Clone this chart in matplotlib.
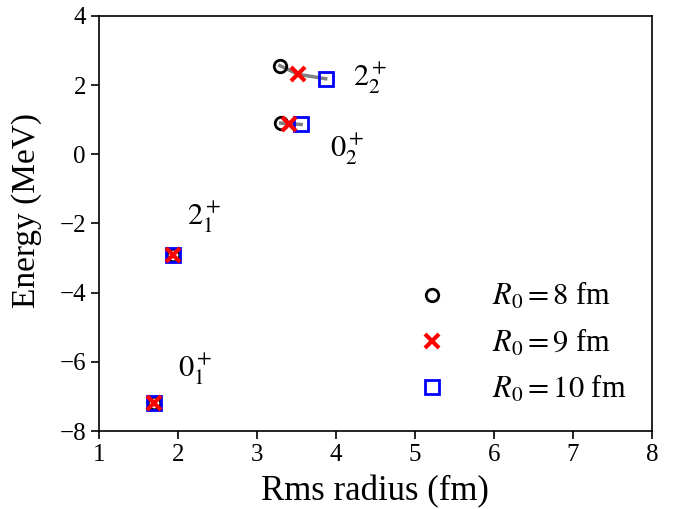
import numpy as np
import matplotlib
matplotlib.use("Agg")
import matplotlib.pyplot as plt

plt.rcParams['font.family'] = ['Liberation Serif', 'DejaVu Serif']
plt.rcParams['mathtext.fontset'] = 'stix'

# states: 0_1+, 2_1+, 0_2+, 2_2+
state_labels = [r'$0_1^+$', r'$2_1^+$', r'$0_2^+$', r'$2_2^+$']
label_x = [2.00, 2.11, 3.92, 4.22]
label_y = [-6.42, -2.04, -0.08, 1.98]

r0_labels = [r'$R_0 = 8$ fm', r'$R_0 = 9$ fm', r'$R_0 = 10$ fm']

# rms radius (fm) and energy (MeV) per R0, one entry per state
rms_r8 = [1.70, 1.93, 3.30, 3.29]
rms_r9 = [1.70, 1.93, 3.41, 3.52]
rms_r10 = [1.70, 1.93, 3.56, 3.87]
en_r8 = [-7.18, -2.91, 0.90, 2.56]
en_r9 = [-7.18, -2.91, 0.88, 2.31]
en_r10 = [-7.18, -2.91, 0.86, 2.18]

fig = plt.figure(figsize=(6.74, 5.09), dpi=100)
ax = fig.add_axes([0.147, 0.153, 0.820, 0.816])

rms = np.array([rms_r8, rms_r9, rms_r10])
en = np.array([en_r8, en_r9, en_r10])

# trajectories as R0 changes
for i in range(rms.shape[1]):
    ax.plot(rms[:, i], en[:, i], '-', color='gray', lw=2.5, zorder=1)

ax.plot(rms_r8, en_r8, 'o', ms=9, mfc='none', mec='black', mew=2,
        ls='none', label=r0_labels[0], zorder=3)
ax.plot(rms_r9, en_r9, 'x', ms=10, mec='red', mew=3,
        ls='none', label=r0_labels[1], zorder=4)
ax.plot(rms_r10, en_r10, 's', ms=10, mfc='none', mec='blue', mew=2,
        ls='none', label=r0_labels[2], zorder=3)

for lab, tx, ty in zip(state_labels, label_x, label_y):
    ax.text(tx, ty, lab, fontsize=22, ha='left', va='baseline')

ax.set_xlim(1, 8)
ax.set_ylim(-8, 4)
ax.set_xticks(range(1, 9))
ax.set_yticks(range(-8, 5, 2))
ax.tick_params(labelsize=18, length=6, width=1.2)
for sp in ax.spines.values():
    sp.set_linewidth(1.2)

ax.set_xlabel('Rms radius (fm)', fontsize=25, labelpad=6)
ax.set_ylabel('Energy (MeV)', fontsize=24)
ax.yaxis.set_label_coords(-0.103, 0.53)

ax.legend(loc='lower right', frameon=False, fontsize=22,
          handletextpad=0.95, labelspacing=0.5, borderaxespad=0.45)

fig.savefig('out.png', dpi=100)
